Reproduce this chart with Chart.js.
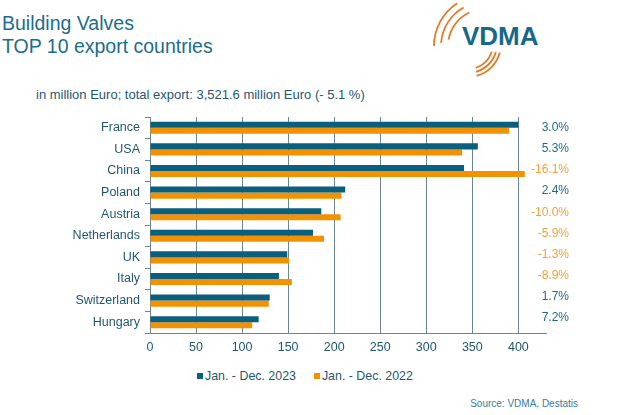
<!DOCTYPE html>
<html>
<head>
<meta charset="utf-8">
<script src="https://cdn.jsdelivr.net/npm/chart.js@4.4.1/dist/chart.umd.min.js"></script>
<style>
  html, body { margin: 0; padding: 0; background: #fff; }
  body { width: 640px; height: 415px; position: relative; overflow: hidden; font-family: "Liberation Sans", Arial, sans-serif; }
  #wrap { position: absolute; left: 0; top: 0; width: 640px; height: 360px; }
  .title { position: absolute; left: 2px; color: #1c6d8b; font-size: 19.5px; white-space: nowrap; }
  #sub { position: absolute; left: 36px; top: 87px; font-size: 13px; color: #1f5670; white-space: nowrap; }
  #legend { position: absolute; top: 369px; left: 197px; font-size: 12.4px; color: #1f5670; white-space: nowrap; display: flex; }
  #legend .item { display: flex; align-items: center; margin-right: 18px; }
  #legend .box { width: 6px; height: 6px; margin-right: 2px; }
  #source { position: absolute; right: 62px; top: 398px; font-size: 10px; color: #3a7d97; white-space: nowrap; }
  #logo { position: absolute; left: 0; top: 0; }
  #vdma { position: absolute; left: 462px; top: 21px; font-size: 26px; font-weight: bold; color: #17698a; }
</style>
</head>
<body>
<div class="title" style="top:12px">Building Valves</div>
<div class="title" style="top:35px">TOP 10 export countries</div>
<svg id="logo" width="640" height="100">
  <g fill="none" stroke="#e27b24" stroke-width="1.8">
    <path id="a1"/><path id="a2"/><path id="a3"/>
    <path id="b1"/><path id="b2"/><path id="b3"/>
  </g>
</svg>
<div id="vdma">VDMA</div>
<div id="sub">in million Euro; total export: 3,521.6 million Euro (- 5.1 %)</div>
<div id="wrap"><canvas id="c"></canvas></div>
<div id="legend"></div>
<div id="source">Source: VDMA, Destatis</div>
<script>
// ---- data ----
const countries = ["France", "USA", "China", "Poland", "Austria", "Netherlands", "UK", "Italy", "Switzerland", "Hungary"];
const values2023 = [400, 356, 341, 212, 186, 177, 149, 140, 130, 118];
const values2022 = [390, 339, 407, 208, 207, 189, 151, 154, 129, 111];
const changes = ["3.0%", "5.3%", "-16.1%", "2.4%", "-10.0%", "-5.9%", "-1.3%", "-8.9%", "1.7%", "7.2%"];
const seriesLabels = ["Jan. - Dec. 2023", "Jan. - Dec. 2022"];
const xTicks = [0, 50, 100, 150, 200, 250, 300, 350, 400];

const TEAL = "#0b5f7e";
const ORANGE = "#f39200";
const TEXT = "#1f5670";
const GRID = "#6a8594";

// logo arcs
function arcPath(cx, cy, r, a0, a1) {
  const t0 = a0 * Math.PI / 180, t1 = a1 * Math.PI / 180;
  const x0 = cx + r * Math.cos(t0), y0 = cy + r * Math.sin(t0);
  const x1 = cx + r * Math.cos(t1), y1 = cy + r * Math.sin(t1);
  return `M${x0} ${y0} A${r} ${r} 0 0 1 ${x1} ${y1}`;
}
document.getElementById('a1').setAttribute('d', arcPath(485, 46, 37, 190, 245));
document.getElementById('a2').setAttribute('d', arcPath(485, 46, 44, 184, 241));
document.getElementById('a3').setAttribute('d', arcPath(485, 46, 51, 180, 237));
document.getElementById('b1').setAttribute('d', arcPath(468, 44, 25, 18, 72));
document.getElementById('b2').setAttribute('d', arcPath(468, 44, 29, 16, 74));
document.getElementById('b3').setAttribute('d', arcPath(468, 44, 33, 15, 75));

// legend
const lg = document.getElementById('legend');
[TEAL, ORANGE].forEach((col, i) => {
  const it = document.createElement('div'); it.className = 'item';
  const b = document.createElement('div'); b.className = 'box'; b.style.background = col;
  const t = document.createElement('span'); t.textContent = seriesLabels[i];
  it.appendChild(b); it.appendChild(t); lg.appendChild(it);
});

const changeLabels = {
  id: 'changeLabels',
  afterDraw(chart) {
    const ctx = chart.ctx, y = chart.scales.y, area = chart.chartArea;
    ctx.save();
    ctx.font = '12px "Liberation Sans", Arial, sans-serif';
    ctx.textAlign = 'right';
    ctx.textBaseline = 'middle';
    changes.forEach((c, i) => {
      ctx.fillStyle = c.startsWith('-') ? "#f0a03c" : "#1f6a89";
      ctx.fillText(c, area.right + 23, y.getPixelForValue(i) - i * 0.5);
    });
    ctx.restore();
  }
};

new Chart(document.getElementById('c'), {
  type: 'bar',
  data: {
    labels: countries,
    datasets: [
      { label: seriesLabels[0], data: values2023, backgroundColor: TEAL, barPercentage: 1, categoryPercentage: 0.56 },
      { label: seriesLabels[1], data: values2022, backgroundColor: ORANGE, barPercentage: 1, categoryPercentage: 0.56 }
    ]
  },
  options: {
    indexAxis: 'y',
    responsive: true,
    maintainAspectRatio: false,
    animation: false,
    layout: { padding: { top: 117, right: 94, left: 0, bottom: 0 } },
    plugins: { legend: { display: false }, tooltip: { enabled: false } },
    scales: {
      x: {
        min: 0, max: 430,
        afterBuildTicks(scale) { scale.ticks = xTicks.map(v => ({ value: v })); },
        afterFit(scale) { scale.height = 27; },
        grid: { color: GRID, drawTicks: false, lineWidth: 1 },
        border: { color: GRID },
        ticks: { color: TEXT, padding: 7, font: { family: '"Liberation Sans", Arial, sans-serif', size: 12.5 } }
      },
      y: {
        afterFit(scale) { scale.width = 150; },
        grid: { drawOnChartArea: false, drawTicks: true, tickLength: 5, color: GRID, offset: true },
        border: { color: GRID },
        ticks: { color: TEXT, padding: 5, font: { family: '"Liberation Sans", Arial, sans-serif', size: 12.5 } }
      }
    }
  },
  plugins: [changeLabels]
});
</script>
</body>
</html>
